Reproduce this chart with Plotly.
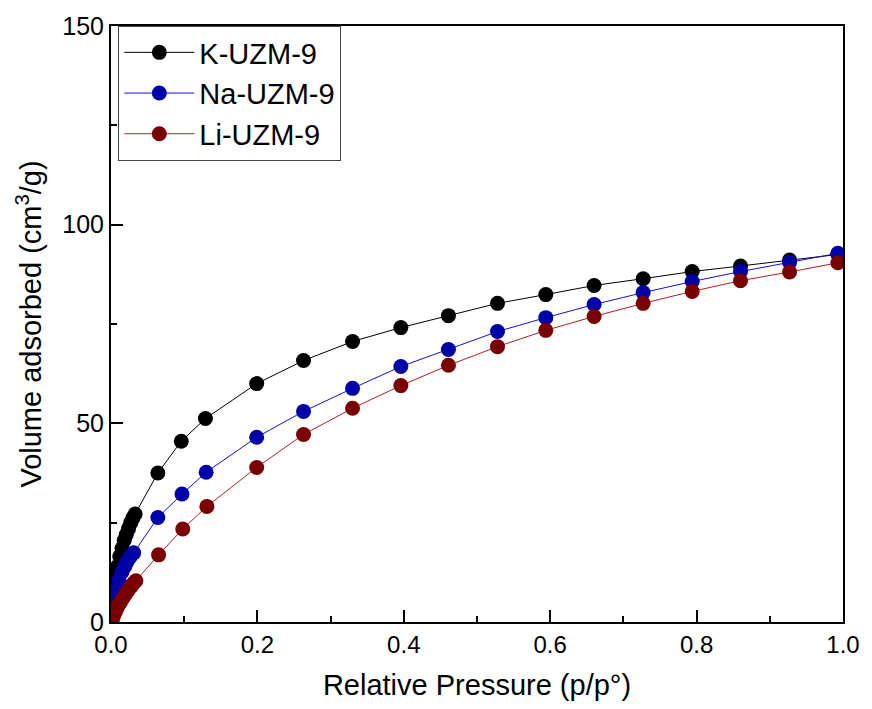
import plotly.graph_objects as go

# Relative pressure (p/p0)
p_K = [0.001, 0.002, 0.003, 0.005, 0.007, 0.009, 0.012, 0.015, 0.018, 0.021, 0.024, 0.027, 0.030, 0.033,
       0.064, 0.096, 0.129, 0.199, 0.263, 0.330, 0.396, 0.461, 0.528, 0.594, 0.660, 0.727, 0.794, 0.860, 0.927, 0.993]
v_K = [2.5, 4.5, 6.5, 9.5, 12.0, 14.0, 16.5, 18.5, 20.5, 22.0, 23.5, 25.0, 26.2, 27.2,
       37.5, 45.5, 51.2, 60.0, 65.8, 70.6, 74.1, 77.1, 80.2, 82.4, 84.7, 86.4, 88.2, 89.6, 91.1, 92.5]

p_Na = [0.001, 0.002, 0.004, 0.006, 0.008, 0.011, 0.015, 0.019, 0.022, 0.026, 0.031,
        0.064, 0.097, 0.130, 0.199, 0.263, 0.330, 0.396, 0.461, 0.528, 0.594, 0.660, 0.727, 0.794, 0.860, 0.927, 0.993]
v_Na = [1.5, 3.0, 5.5, 7.0, 8.0, 10.5, 12.6, 14.0, 15.2, 16.3, 17.4,
        26.3, 32.2, 37.7, 46.5, 53.0, 58.8, 64.3, 68.6, 73.1, 76.6, 79.9, 82.9, 85.7, 88.2, 90.5, 92.8]

p_Li = [0.001, 0.002, 0.004, 0.006, 0.008, 0.010, 0.013, 0.016, 0.019, 0.022, 0.025, 0.028, 0.031, 0.034,
        0.065, 0.098, 0.131, 0.199, 0.263, 0.330, 0.396, 0.461, 0.528, 0.594, 0.660, 0.727, 0.794, 0.860, 0.927, 0.993]
v_Li = [0.4, 0.8, 1.8, 2.6, 3.4, 4.2, 5.0, 5.9, 6.8, 7.6, 8.4, 9.1, 9.8, 10.4,
        16.9, 23.4, 29.1, 38.9, 47.2, 53.8, 59.5, 64.6, 69.3, 73.4, 76.9, 80.2, 83.2, 85.9, 88.1, 90.4]

series = [
    ("K-UZM-9", p_K, v_K, "#000000", "#000000"),
    ("Na-UZM-9", p_Na, v_Na, "#0000A8", "#1010E0"),
    ("Li-UZM-9", p_Li, v_Li, "#7A0000", "#B02020"),
]

fig = go.Figure()
for name, x, y, mc, lc in series:
    fig.add_trace(go.Scatter(
        x=x, y=y, name=name, mode="lines+markers",
        line=dict(color=lc, width=1),
        marker=dict(color=mc, size=15, line=dict(width=0)),
    ))

axis_font = "Liberation Sans, Arial, sans-serif"

fig.update_layout(
    width=872, height=709,
    margin=dict(l=111, r=20, t=25, b=87),
    paper_bgcolor="white", plot_bgcolor="white",
    font=dict(family=axis_font, color="black", size=22),
    showlegend=True,
    legend=dict(
        x=0.01, y=1.0, xanchor="left", yanchor="top",
        bgcolor="white", bordercolor="#444444", borderwidth=1,
        font=dict(family=axis_font, size=29, color="black"),
        itemwidth=70,
    ),
    xaxis=dict(
        range=[0, 1.0], showgrid=False, zeroline=False,
        showline=True, linecolor="black", linewidth=2, mirror=True,
        ticks="inside", ticklen=12, tickwidth=1.5, tickcolor="black",
        tickvals=[0, 0.2, 0.4, 0.6, 0.8, 1.0],
        ticktext=["0.0", "0.2", "0.4", "0.6", "0.8", "1.0"],
        tickfont=dict(family=axis_font, size=24),
        minor=dict(ticks="inside", ticklen=6, tickwidth=1.5, tickcolor="black", dtick=0.1, tick0=0),
        title=dict(text="Relative Pressure (p/p°)", font=dict(family=axis_font, size=29), standoff=18),
    ),
    yaxis=dict(
        range=[0, 150], showgrid=False, zeroline=False,
        showline=True, linecolor="black", linewidth=2, mirror=True,
        ticks="inside", ticklen=12, tickwidth=1.5, tickcolor="black",
        tickvals=[0, 50, 100, 150],
        tickfont=dict(family=axis_font, size=25),
        minor=dict(ticks="inside", ticklen=6, tickwidth=1.5, tickcolor="black", dtick=25, tick0=0),
        title=dict(text="Volume adsorbed (cm<sup>3</sup>/g)", font=dict(family=axis_font, size=29), standoff=12),
    ),
)

fig.write_html("out.html")
